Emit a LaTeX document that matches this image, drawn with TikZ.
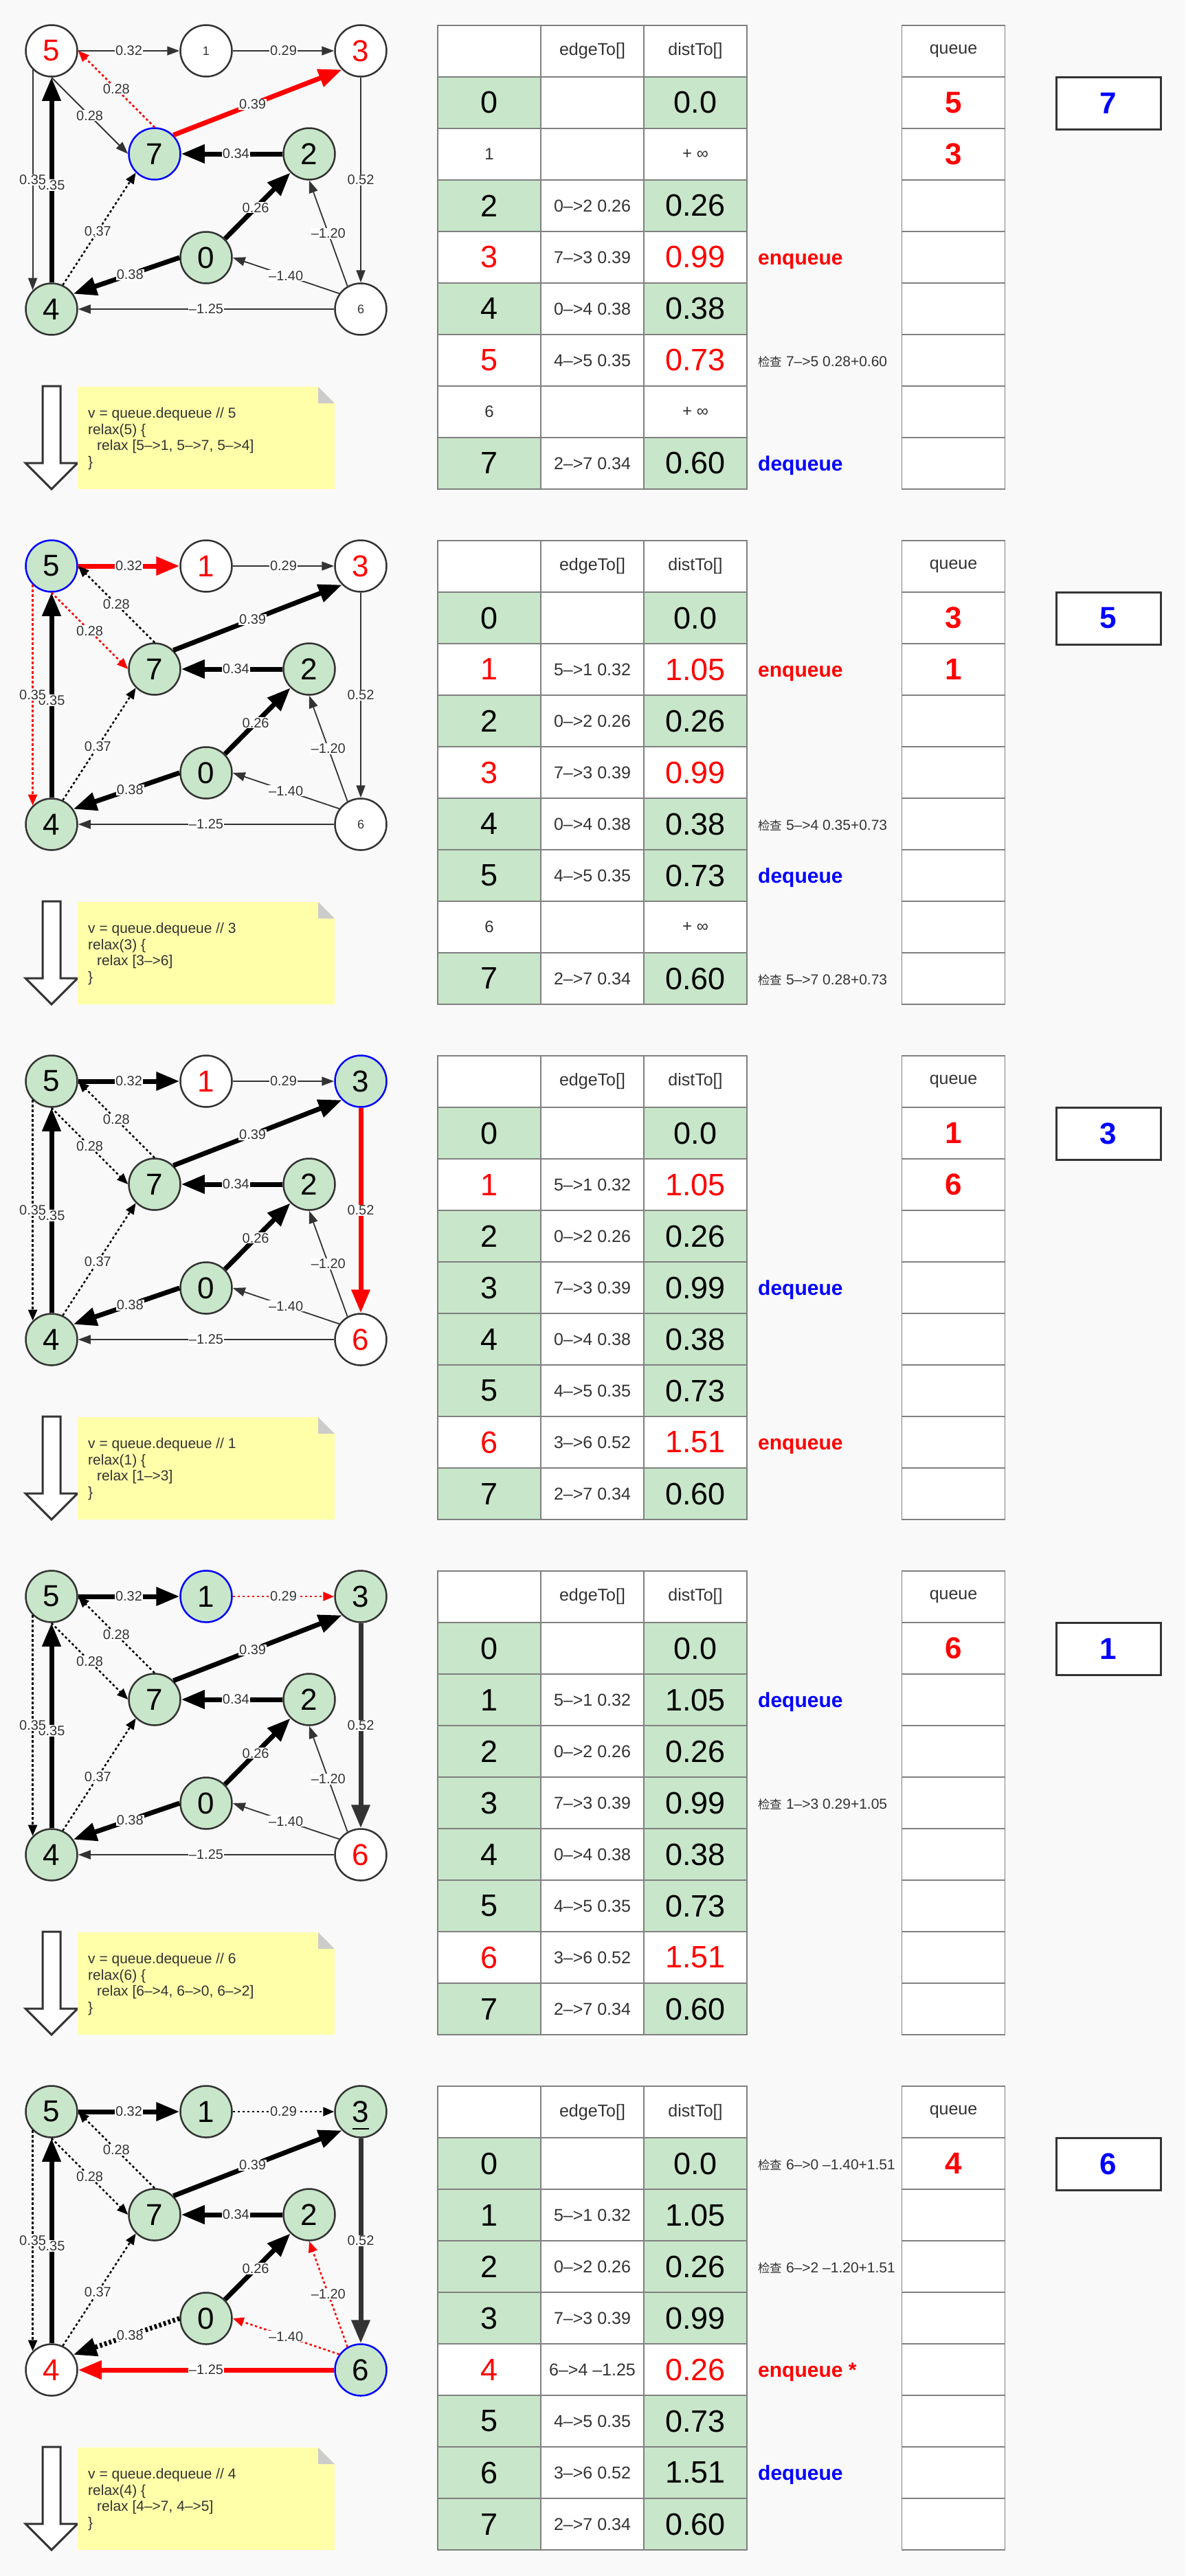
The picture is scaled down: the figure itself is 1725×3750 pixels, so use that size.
\documentclass[tikz,border=0pt]{standalone}
\usepackage{fontspec}
\setmainfont{Liberation Sans}
\newfontfamily\cjk{Noto Sans CJK SC}
\usetikzlibrary{arrows.meta}
\definecolor{bgc}{HTML}{F9F9F9}
\definecolor{vg}{HTML}{C8E6C9}
\definecolor{dk}{HTML}{333333}
\definecolor{tbc}{HTML}{808080}
\definecolor{notec}{HTML}{FFFFAA}
\definecolor{foldc}{HTML}{CCCCCC}
\definecolor{rd}{HTML}{FF0000}
\definecolor{bl}{HTML}{0000FF}
\newcommand\fsz[1]{\fontsize{#1}{#1}\selectfont}
\newcommand\tvb[1]{{\fsz{45}\color{black}#1}}
\newcommand\tvr[1]{{\fsz{45}\color{rd}#1}}
\newcommand\tvs[1]{{\fsz{24}\color{dk}#1}}
\newcommand\annt[2]{{\bfseries\fsz{30}\color{#1}#2}}
\newcommand\chk[1]{{\fsz{21}\color{dk}{\cjk\fsz{17.5}检查} #1}}
\newcommand\threelabel{3}
\tikzset{
  vx/.style={circle, minimum size=75pt, inner sep=0pt, line width=2.5pt, draw=dk},
  vgreen/.style={vx, fill=vg, font=\fsz{44}, text=black},
  vcur/.style={vx, fill=vg, draw=bl, font=\fsz{44}, text=black},
  vred/.style={vx, fill=white, font=\fsz{44}, text=rd},
  vplain/.style={vx, fill=white, font=\fsz{18}, text=dk},
  elab/.style={fill=white, inner sep=1pt, font=\fsz{20}, text=dk},
  ethin/.style={draw=dk, line width=1.8pt, -{Triangle[length=18pt,width=13pt]}},
  ethick/.style={draw=black, line width=7pt, -{Triangle[length=34pt,width=26pt]}},
  edot/.style={draw=black, line width=2.5pt, dash pattern=on 3.5pt off 3.5pt, -{Triangle[length=16pt,width=13pt]}},
  ereddot/.style={edot, draw=rd},
  eredthick/.style={ethick, draw=rd},
  egrthick/.style={ethick, draw=dk},
  edotthick/.style={ethick, dash pattern=on 3.5pt off 3.5pt},
  cell/.style={draw=tbc, line width=1.8pt, minimum width=150pt, minimum height=75pt, inner sep=0pt},
}
\newcommand\gnodes[9]{%
  \node[#2] (#1n5) at (75,74) {5};
  \node[#3] (#1n1) at (300,74) {1};
  \node[#4] (#1n3) at (525,74) {\threelabel};
  \node[#5] (#1n7) at (225,224) {7};
  \node[#6] (#1n2) at (450,224) {2};
  \node[#7] (#1n0) at (300,375) {0};
  \node[#8] (#1n4) at (75,450) {4};
  \node[#9] (#1n6) at (525,450) {6};
}
\newcommand\drawedges[1]{%
  \draw[e51] (#1n5.east) -- node[elab]{0.32} (#1n1.west);
  \draw[e13] (#1n1.east) -- node[elab]{0.29} (#1n3.west);
  \draw[e45] (#1n4.north) -- node[elab,pos=0.475]{0.35} (#1n5.south);
  \draw[e54] (#1n5.south west) -- node[elab]{0.35} (#1n5.south west |- #1n4.north west);
  \draw[e57] (#1n5.south) -- node[elab]{0.28} (#1n7.west);
  \draw[e75] (#1n7.north) -- node[elab]{0.28} (#1n5.east);
  \draw[e73] (#1n7.north east) -- node[elab,pos=0.47]{0.39} (#1n3.south west);
  \draw[e27] (#1n2.west) -- node[elab,pos=0.46]{0.34} (#1n7.east);
  \draw[e02] (#1n0.north east) -- node[elab,pos=0.47]{0.26} (#1n2.south west);
  \draw[e04] (#1n0.west) -- node[elab,pos=0.466]{0.38} (#1n4.35);
  \draw[e47] (#1n4.65) -- node[elab,pos=0.48]{0.37} (#1n7.south west);
  \draw[e60] (#1n6.144) -- node[elab]{–1.40} (#1n0.east);
  \draw[e62] (#1n6.120) -- node[elab]{–1.20} (#1n2.south);
  \draw[e64] (#1n6.west) -- node[elab]{–1.25} (#1n4.east);
  \draw[e36] (#1n3.south) -- node[elab]{0.52} (#1n6.north);
}
\newcommand\notebox[3]{%
  \path[fill=white,draw=dk,line width=3pt] (62,562) -- (88,562) -- (88,674) -- (113,674) -- (75,712) -- (37,674) -- (62,674) -- cycle;
  \path[fill=notec] (113,563) -- (463,563) -- (487,587) -- (487,712) -- (113,712) -- cycle;
  \path[fill=foldc] (463,563) -- (463,587) -- (487,587) -- cycle;
  \node[anchor=west, align=left, inner sep=0pt, text=dk, font=\fontsize{21}{23.7}\selectfont] (#1note) at (128,638.5) {v = queue.dequeue // #2\\relax(#2) \{\\\hspace*{13pt}relax [#3]\\\}};
}
\newcommand\tabhead[1]{%
  \node[cell,fill=white] (#1h0) at (712,74.5) {};
  \node[cell,fill=white,font=\fsz{25},text=dk] (#1h1) at (862,74.5) {edgeTo[]};
  \node[cell,fill=white,font=\fsz{25},text=dk] (#1h2) at (1012,74.5) {distTo[]};
}
\newcommand\trow[7]{%
  \node[cell,fill=#3] (#1r#2a) at (712,{149.5+75*#2}) {#4};
  \node[cell,fill=white,font=\fsz{25},text=dk] (#1r#2b) at (862,{149.5+75*#2}) {#5};
  \node[cell,fill=#6] (#1r#2c) at (1012,{149.5+75*#2}) {#7};
}
\newcommand\annrow[4]{%
  \node[anchor=base west, inner sep=0pt] (#1an#2) at (1103,{149.5+75*#2+#3}) {#4};
}
\newcommand\qcol[3]{%
  \node[cell,fill=white,font=\fsz{25},text=dk] (#1qh) at (1387.5,74.5) {queue};
  \node[cell,fill=white,font=\bfseries\fsz{44},text=rd] (#1q0) at (1387.5,149.5) {#2};
  \node[cell,fill=white,font=\bfseries\fsz{44},text=rd] (#1q1) at (1387.5,224.5) {#3};
  \foreach \i in {2,...,7}{\node[cell,fill=white] (#1q\i) at (1387.5,{149.5+75*\i}) {};}
}
\newcommand\curbox[2]{%
  \node[draw=dk,line width=3pt,fill=white,minimum width=152pt,minimum height=76pt,inner sep=0pt,font=\bfseries\fsz{44},text=bl] (#1cur) at (1613,150) {#2};
}
\begin{document}
\begin{tikzpicture}[x=1pt,y=-1pt]
\path[fill=bgc] (0,0) rectangle (1725,3750);
\useasboundingbox (0,0) rectangle (1725,3750);

% ---------------- panel 1 : v = 7
\begin{scope}
\gnodes{a}{vred}{vplain}{vred}{vcur}{vgreen}{vgreen}{vgreen}{vplain}
\tikzset{e51/.style=ethin, e13/.style=ethin, e54/.style=ethin, e45/.style=ethick, e57/.style=ethin, e75/.style=ereddot, e73/.style=eredthick, e27/.style=ethick, e02/.style=ethick, e04/.style=ethick, e47/.style=edot, e60/.style=ethin, e62/.style=ethin, e64/.style=ethin, e36/.style=ethin}
\drawedges{a}
\notebox{a}{5}{5–>1, 5–>7, 5–>4}
\tabhead{a}
\trow{a}{0}{vg}{\tvb{0}}{}{vg}{\tvb{0.0}}
\trow{a}{1}{white}{\tvs{1}}{}{white}{\tvs{+ ∞}}
\trow{a}{2}{vg}{\tvb{2}}{0–>2 0.26}{vg}{\tvb{0.26}}
\trow{a}{3}{white}{\tvr{3}}{7–>3 0.39}{white}{\tvr{0.99}}
\trow{a}{4}{vg}{\tvb{4}}{0–>4 0.38}{vg}{\tvb{0.38}}
\trow{a}{5}{white}{\tvr{5}}{4–>5 0.35}{white}{\tvr{0.73}}
\trow{a}{6}{white}{\tvs{6}}{}{white}{\tvs{+ ∞}}
\trow{a}{7}{vg}{\tvb{7}}{2–>7 0.34}{vg}{\tvb{0.60}}
\annrow{a}{3}{10.5}{\annt{rd}{enqueue}}
\annrow{a}{5}{9}{\chk{7–>5 0.28+0.60}}
\annrow{a}{7}{10.5}{\annt{bl}{dequeue}}
\qcol{a}{5}{3}
\curbox{a}{7}
\end{scope}

% ---------------- panel 2 : v = 5
\begin{scope}[yshift=-750pt]
\gnodes{b}{vcur}{vred}{vred}{vgreen}{vgreen}{vgreen}{vgreen}{vplain}
\tikzset{e51/.style=eredthick, e13/.style=ethin, e54/.style=ereddot, e45/.style=ethick, e57/.style=ereddot, e75/.style=edot, e73/.style=ethick, e27/.style=ethick, e02/.style=ethick, e04/.style=ethick, e47/.style=edot, e60/.style=ethin, e62/.style=ethin, e64/.style=ethin, e36/.style=ethin}
\drawedges{b}
\notebox{b}{3}{3–>6}
\tabhead{b}
\trow{b}{0}{vg}{\tvb{0}}{}{vg}{\tvb{0.0}}
\trow{b}{1}{white}{\tvr{1}}{5–>1 0.32}{white}{\tvr{1.05}}
\trow{b}{2}{vg}{\tvb{2}}{0–>2 0.26}{vg}{\tvb{0.26}}
\trow{b}{3}{white}{\tvr{3}}{7–>3 0.39}{white}{\tvr{0.99}}
\trow{b}{4}{vg}{\tvb{4}}{0–>4 0.38}{vg}{\tvb{0.38}}
\trow{b}{5}{vg}{\tvb{5}}{4–>5 0.35}{vg}{\tvb{0.73}}
\trow{b}{6}{white}{\tvs{6}}{}{white}{\tvs{+ ∞}}
\trow{b}{7}{vg}{\tvb{7}}{2–>7 0.34}{vg}{\tvb{0.60}}
\annrow{b}{1}{10.5}{\annt{rd}{enqueue}}
\annrow{b}{4}{9}{\chk{5–>4 0.35+0.73}}
\annrow{b}{5}{10.5}{\annt{bl}{dequeue}}
\annrow{b}{7}{9}{\chk{5–>7 0.28+0.73}}
\qcol{b}{3}{1}
\curbox{b}{5}
\end{scope}

% ---------------- panel 3 : v = 3
\begin{scope}[yshift=-1500pt]
\gnodes{c}{vgreen}{vred}{vcur}{vgreen}{vgreen}{vgreen}{vgreen}{vred}
\tikzset{e51/.style=ethick, e13/.style=ethin, e54/.style=edot, e45/.style=ethick, e57/.style=edot, e75/.style=edot, e73/.style=ethick, e27/.style=ethick, e02/.style=ethick, e04/.style=ethick, e47/.style=edot, e60/.style=ethin, e62/.style=ethin, e64/.style=ethin, e36/.style=eredthick}
\drawedges{c}
\notebox{c}{1}{1–>3}
\tabhead{c}
\trow{c}{0}{vg}{\tvb{0}}{}{vg}{\tvb{0.0}}
\trow{c}{1}{white}{\tvr{1}}{5–>1 0.32}{white}{\tvr{1.05}}
\trow{c}{2}{vg}{\tvb{2}}{0–>2 0.26}{vg}{\tvb{0.26}}
\trow{c}{3}{vg}{\tvb{3}}{7–>3 0.39}{vg}{\tvb{0.99}}
\trow{c}{4}{vg}{\tvb{4}}{0–>4 0.38}{vg}{\tvb{0.38}}
\trow{c}{5}{vg}{\tvb{5}}{4–>5 0.35}{vg}{\tvb{0.73}}
\trow{c}{6}{white}{\tvr{6}}{3–>6 0.52}{white}{\tvr{1.51}}
\trow{c}{7}{vg}{\tvb{7}}{2–>7 0.34}{vg}{\tvb{0.60}}
\annrow{c}{3}{10.5}{\annt{bl}{dequeue}}
\annrow{c}{6}{10.5}{\annt{rd}{enqueue}}
\qcol{c}{1}{6}
\curbox{c}{3}
\end{scope}

% ---------------- panel 4 : v = 1
\begin{scope}[yshift=-2250pt]
\gnodes{d}{vgreen}{vcur}{vgreen}{vgreen}{vgreen}{vgreen}{vgreen}{vred}
\tikzset{e51/.style=ethick, e13/.style=ereddot, e54/.style=edot, e45/.style=ethick, e57/.style=edot, e75/.style=edot, e73/.style=ethick, e27/.style=ethick, e02/.style=ethick, e04/.style=ethick, e47/.style=edot, e60/.style=ethin, e62/.style=ethin, e64/.style=ethin, e36/.style=egrthick}
\drawedges{d}
\notebox{d}{6}{6–>4, 6–>0, 6–>2}
\tabhead{d}
\trow{d}{0}{vg}{\tvb{0}}{}{vg}{\tvb{0.0}}
\trow{d}{1}{vg}{\tvb{1}}{5–>1 0.32}{vg}{\tvb{1.05}}
\trow{d}{2}{vg}{\tvb{2}}{0–>2 0.26}{vg}{\tvb{0.26}}
\trow{d}{3}{vg}{\tvb{3}}{7–>3 0.39}{vg}{\tvb{0.99}}
\trow{d}{4}{vg}{\tvb{4}}{0–>4 0.38}{vg}{\tvb{0.38}}
\trow{d}{5}{vg}{\tvb{5}}{4–>5 0.35}{vg}{\tvb{0.73}}
\trow{d}{6}{white}{\tvr{6}}{3–>6 0.52}{white}{\tvr{1.51}}
\trow{d}{7}{vg}{\tvb{7}}{2–>7 0.34}{vg}{\tvb{0.60}}
\annrow{d}{1}{10.5}{\annt{bl}{dequeue}}
\annrow{d}{3}{9}{\chk{1–>3 0.29+1.05}}
\qcol{d}{6}{}
\curbox{d}{1}
\end{scope}

% ---------------- panel 5 : v = 6
\begin{scope}[yshift=-3000pt]
\def\threelabel{\smash{\rlap{\rule[-11pt]{0.556em}{2.5pt}}}3}
\gnodes{e}{vgreen}{vgreen}{vgreen}{vgreen}{vgreen}{vgreen}{vred}{vcur}
\tikzset{e51/.style=ethick, e13/.style=edot, e54/.style=edot, e45/.style=ethick, e57/.style=edot, e75/.style=edot, e73/.style=ethick, e27/.style=ethick, e02/.style=ethick, e04/.style=edotthick, e47/.style=edot, e60/.style=ereddot, e62/.style=ereddot, e64/.style=eredthick, e36/.style=egrthick}
\drawedges{e}
\notebox{e}{4}{4–>7, 4–>5}
\tabhead{e}
\trow{e}{0}{vg}{\tvb{0}}{}{vg}{\tvb{0.0}}
\trow{e}{1}{vg}{\tvb{1}}{5–>1 0.32}{vg}{\tvb{1.05}}
\trow{e}{2}{vg}{\tvb{2}}{0–>2 0.26}{vg}{\tvb{0.26}}
\trow{e}{3}{vg}{\tvb{3}}{7–>3 0.39}{vg}{\tvb{0.99}}
\trow{e}{4}{white}{\tvr{4}}{6–>4 –1.25}{white}{\tvr{0.26}}
\trow{e}{5}{vg}{\tvb{5}}{4–>5 0.35}{vg}{\tvb{0.73}}
\trow{e}{6}{vg}{\tvb{6}}{3–>6 0.52}{vg}{\tvb{1.51}}
\trow{e}{7}{vg}{\tvb{7}}{2–>7 0.34}{vg}{\tvb{0.60}}
\annrow{e}{0}{9}{\chk{6–>0 –1.40+1.51}}
\annrow{e}{2}{9}{\chk{6–>2 –1.20+1.51}}
\annrow{e}{4}{10.5}{\annt{rd}{enqueue *}}
\annrow{e}{6}{10.5}{\annt{bl}{dequeue}}
\qcol{e}{4}{}
\curbox{e}{6}
\end{scope}
\end{tikzpicture}
\end{document}
